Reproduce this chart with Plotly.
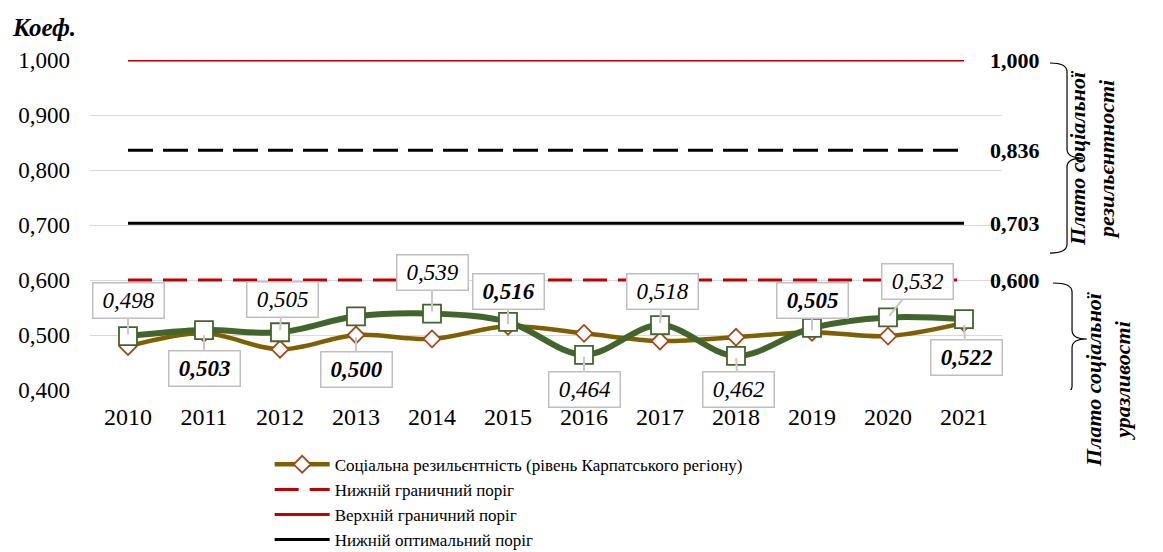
import plotly.graph_objects as go

# ---- data -------------------------------------------------------------
years = [2010, 2011, 2012, 2013, 2014, 2015, 2016, 2017, 2018, 2019, 2020, 2021]

# Social resilience, Carpathian region (brown, diamonds)
carpathian = [0.479, 0.503, 0.474, 0.500, 0.493, 0.516, 0.503, 0.489, 0.496, 0.505, 0.498, 0.522]
# Second resilience series (green, squares)
second_series = [0.498, 0.509, 0.505, 0.534, 0.539, 0.524, 0.464, 0.518, 0.462, 0.513, 0.532, 0.529]

# Thresholds
lower_boundary = 0.600     # Нижній граничний поріг
upper_boundary = 1.000     # Верхній граничний поріг
lower_optimal = 0.703      # Нижній оптимальний поріг
upper_optimal = 0.836      # Верхній оптимальний поріг

# Which series each callout labels: "b" = Carpathian (bold), "g" = second series
label_source = ["g", "b", "g", "b", "g", "b", "g", "g", "g", "b", "g", "b"]
# Callout offsets in pixels (box centre relative to the labelled point)
label_dx = [0, 0, 2, 0, 0, 0, 0, 2, 2, 0, 29, 2]
label_dy = [-36, 35, -33, 34, -41, -35, 35, -34, 34, -32, -36, 35]

y_ticks = [0.4, 0.5, 0.6, 0.7, 0.8, 0.9, 1.0]

FONT = "Times New Roman, Liberation Serif, serif"
RED = "#C00000"
GREEN = "#41652B"
BROWN = "#7F6000"
DIAMOND_EDGE = "#A2481C"

x_idx = list(range(len(years)))

fig = go.Figure()

# Threshold lines
def hline(value, name, color, dash, show, rank):
    fig.add_trace(go.Scatter(
        x=x_idx, y=[value] * len(x_idx), mode="lines", name=name,
        line=dict(color=color, width=3, dash=dash),
        showlegend=show, legendrank=rank, hoverinfo="skip"))

hline(upper_boundary, "Верхній граничний поріг", RED, "solid", True, 3)
hline(upper_optimal, "Верхній оптимальний поріг", "black", "25px,10px", False, 5)
hline(lower_optimal, "Нижній оптимальний поріг", "black", "solid", True, 4)
hline(lower_boundary, "Нижній граничний поріг", RED, "24px,11px", True, 2)

fig.add_trace(go.Scatter(
    x=x_idx, y=carpathian, mode="lines+markers",
    name="Соціальна резильєнтність (рівень Карпатського регіону)",
    line=dict(color=BROWN, width=4.5, shape="spline", smoothing=1),
    marker=dict(symbol="diamond", size=13, color="white",
                line=dict(color=DIAMOND_EDGE, width=1.8)),
    legendrank=1))

fig.add_trace(go.Scatter(
    x=x_idx, y=second_series, mode="lines+markers",
    name="Соціальна резильєнтність",
    line=dict(color=GREEN, width=6, shape="spline", smoothing=1),
    marker=dict(symbol="square", size=18, color="white",
                line=dict(color=GREEN, width=1.8)),
    showlegend=False, legendrank=6))

# Callout data labels
for i, src in enumerate(label_source):
    val = carpathian[i] if src == "b" else second_series[i]
    txt = f"{val:.3f}".replace(".", ",")
    bold = src == "b"
    fig.add_annotation(
        x=x_idx[i], y=val, xref="x", yref="y",
        text=f"<b><i>{txt}</i></b>" if bold else f"<i>{txt}</i>",
        showarrow=True, arrowhead=0, arrowwidth=2, arrowcolor="#C8C8C8",
        ax=label_dx[i], ay=label_dy[i], standoff=2,
        font=dict(family=FONT, size=23, color="black"),
        bgcolor="white", bordercolor="#BFBFBF", borderwidth=1.5,
        borderpad=3, width=64, height=28)

# Threshold values on the right
for v in [upper_boundary, upper_optimal, lower_optimal, lower_boundary]:
    fig.add_annotation(
        x=0.985, xref="paper", y=v, yref="y", xanchor="left", yanchor="middle",
        text="<b>" + f"{v:.3f}".replace(".", ",") + "</b>", showarrow=False,
        font=dict(family=FONT, size=22, color="black"))

# Curly braces grouping the plateaus
def brace(y_top, y_bot, x0, x1, x2, r=0.016):
    ym = (y_top + y_bot) / 2
    path = (f"M {x0},{y_top} Q {x1},{y_top} {x1},{y_top - r} "
            f"L {x1},{ym + r} Q {x1},{ym} {x2},{ym} "
            f"Q {x1},{ym} {x1},{ym - r} "
            f"L {x1},{y_bot + r} Q {x1},{y_bot} {x0},{y_bot}")
    fig.add_shape(type="path", path=path, xref="paper", yref="y",
                  line=dict(color="black", width=1.2))

brace(0.9945, 0.649, 1.0526, 1.0713, 1.0888)
brace(0.5945, 0.391, 1.0560, 1.0768, 1.0932)

fig.add_annotation(
    x=1.1305, xref="paper", y=0.822, yref="y", textangle=-90,
    text="<b><i>Плато соціальної<br>резильєнтності</i></b>", showarrow=False,
    font=dict(family=FONT, size=22, color="black"))
fig.add_annotation(
    x=1.148, xref="paper", y=0.42, yref="y", textangle=-90,
    text="<b><i>Плато соціальної<br>уразливості</i></b>", showarrow=False,
    font=dict(family=FONT, size=22, color="black"))

# Axis title
fig.add_annotation(
    x=-0.0877, xref="paper", y=1.097, yref="paper", xanchor="left", yanchor="middle",
    text="<b><i>Коеф.</i></b>", showarrow=False,
    font=dict(family=FONT, size=25, color="black"))

fig.update_layout(
    width=1163, height=552, autosize=False,
    margin=dict(l=90, r=161, t=60, b=162, autoexpand=False),
    paper_bgcolor="white", plot_bgcolor="white",
    separators=", ",
    font=dict(family=FONT, size=22, color="black"),
    showlegend=True,
    legend=dict(x=0.197, y=-0.172, xanchor="left", yanchor="top",
                font=dict(family=FONT, size=17, color="black"),
                itemwidth=55, tracegroupgap=0, bgcolor="rgba(0,0,0,0)",
                traceorder="normal"),
    xaxis=dict(range=[-0.5, 11.5], tickvals=x_idx, ticktext=[str(y) for y in years],
               showgrid=False, zeroline=False, showline=False, ticks="",
               tickfont=dict(family=FONT, size=24), ticklabelstandoff=10),
    yaxis=dict(range=[0.4, 1.0], tickvals=y_ticks, tickformat=".3f",
               showgrid=True, gridcolor="#D9D9D9", gridwidth=1.3, zeroline=False,
               showline=False, ticks="", tickfont=dict(family=FONT, size=23),
               ticklabelstandoff=19),
)

fig.write_html("out.html")
